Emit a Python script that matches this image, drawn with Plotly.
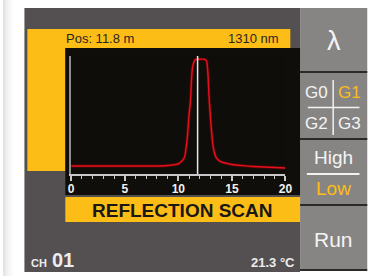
import plotly.graph_objects as go

# ---- data ----
distance_m = [0, 2, 4, 6, 8, 9, 10, 10.55, 10.82, 11.0, 11.14, 11.23, 11.32, 11.55, 11.73,
              12.0, 12.45, 12.64, 12.77, 12.86, 12.95, 13.09, 13.27, 13.55, 14.0, 15.0,
              16.0, 17.0, 18.0, 19.0, 20.0]
reflection = [0.068, 0.068, 0.068, 0.068, 0.068, 0.072, 0.085, 0.136, 0.288, 0.50, 0.627,
              0.797, 0.898, 0.966, 0.972, 0.973, 0.972, 0.958, 0.839, 0.669, 0.542, 0.373,
              0.220, 0.136, 0.102, 0.081, 0.071, 0.064, 0.059, 0.055, 0.051]
x_ticks = [0, 5, 10, 15, 20]
cursor_pos = 11.8
wavelength_nm = 1310
channel = "01"
temperature_c = 21.3

W, H = 384, 276
FONT = "Liberation Sans, Arial, sans-serif"
YEL = "#fcbd17"
DARK = "#545051"
BTN = "#878584"
BLACK = "#100e0b"


def px(x):
    return x / W


def py(y):
    return 1 - y / H


shapes = []


def rect(x0, y0, x1, y1, color):
    shapes.append(dict(type="rect", xref="paper", yref="paper", x0=px(x0), x1=px(x1),
                       y0=py(y1), y1=py(y0), fillcolor=color, line=dict(width=0),
                       layer="below"))


def hline(x0, x1, y, color, w):
    shapes.append(dict(type="line", xref="paper", yref="paper", x0=px(x0), x1=px(x1),
                       y0=py(y), y1=py(y), line=dict(color=color, width=w), layer="above"))


def vline(x, y0, y1, color, w):
    shapes.append(dict(type="line", xref="paper", yref="paper", x0=px(x), x1=px(x),
                       y0=py(y0), y1=py(y1), line=dict(color=color, width=w), layer="above"))


# left shadow
for i, c in enumerate(["#e4e4e4", "#ebebeb", "#f1f1f1", "#f6f6f6", "#fafafa"]):
    rect(i * 2, 0, i * 2 + 2, H, c)

# panels
rect(22, 8, 305, 272, DARK)
rect(305, 8, 374, 270, BTN)
for yy in [72, 139, 205, 270]:
    rect(305, yy - 1, 374, yy + 1, "#2b2929")
# yellow header row & left column
rect(25, 29, 295, 48, YEL)
rect(25, 48, 64, 171, YEL)
# black plot screen
rect(64, 48, 305, 195, BLACK)
# title band
rect(64, 197, 305, 222, YEL)

# G grid cross and High/Low separator
vline(339, 80, 135, "#f2f2f2", 1.5)
hline(313, 366, 107.5, "#f2f2f2", 1.5)
hline(312, 366, 174, "#f2f2f2", 2)

# cursor line (data coords)
shapes.append(dict(type="line", xref="x", yref="y", x0=cursor_pos, x1=cursor_pos,
                   y0=0, y1=1.01, line=dict(color="#e8e8e8", width=1.5), layer="above"))

annotations = []


def text(s, x, y, size, color, xanchor="center", bold=False):
    annotations.append(dict(text=s, xref="paper", yref="paper", x=px(x), y=py(y),
                            xanchor=xanchor, yanchor="middle", showarrow=False,
                            font=dict(family=FONT, size=size, color=color,
                                      weight="bold" if bold else "normal")))


text(f"Pos: {cursor_pos} m", 63, 38.5, 13, "#2a2622", xanchor="left")
text(f"{wavelength_nm} nm", 285, 38.5, 13, "#2a2622", xanchor="right")
text("REFLECTION SCAN", 184.5, 210, 19, "#1a1814", bold=True)
text("λ", 339.5, 41, 27, "#f4f4f4")
text("G0", 322, 92.5, 17, "#f4f4f4")
text("G1", 356, 92.5, 17, YEL)
text("G2", 322, 123, 17, "#f4f4f4")
text("G3", 356, 123, 17, "#f4f4f4")
text("High", 339.5, 157.5, 19, "#f4f4f4")
text("Low", 339.5, 188, 19, YEL)
text("Run", 339.5, 239, 21, "#f4f4f4")
text("CH", 26.5, 262.5, 11, "#ececec", xanchor="left", bold=True)
text(channel, 48, 259.5, 20, "#ececec", xanchor="left", bold=True)
text(f"{temperature_c} °C", 302, 262.5, 13, "#ececec", xanchor="right", bold=True)

fig = go.Figure()
fig.add_trace(go.Scatter(x=distance_m, y=reflection, mode="lines",
                         line=dict(color="#8a0008", width=3, shape="spline", smoothing=0.6),
                         opacity=0.55, hoverinfo="skip", showlegend=False))
fig.add_trace(go.Scatter(x=distance_m, y=reflection, mode="lines",
                         line=dict(color="#e4101c", width=1.4, shape="spline", smoothing=0.6),
                         showlegend=False))

fig.update_layout(
    width=W, height=H, margin=dict(l=0, r=0, t=0, b=0),
    paper_bgcolor="white", plot_bgcolor="rgba(0,0,0,0)",
    shapes=shapes, annotations=annotations, showlegend=False,
    font=dict(family=FONT),
    xaxis=dict(domain=[px(70), px(290)], range=[0, 20], showgrid=False, zeroline=False,
               showline=True, linecolor="#c8c8c8", linewidth=1.5,
               ticks="outside", ticklen=5, tickwidth=1.5, tickcolor="#c8c8c8",
               tickvals=x_ticks, ticktext=[str(v) for v in x_ticks],
               tickfont=dict(family=FONT, size=12, color="#f0f0f0", weight="bold"),
               ticklabelstandoff=-2,
               minor=dict(dtick=1, ticks="outside", ticklen=3, tickwidth=1,
                          tickcolor="#c8c8c8"),
               fixedrange=True),
    yaxis=dict(domain=[py(174), py(56)], range=[0, 1], showgrid=False, zeroline=False,
               showline=True, linecolor="#8e8e8e", linewidth=2, showticklabels=False,
               ticks="", fixedrange=True),
)

fig.write_html("out.html", config={"displayModeBar": False},
               post_script="document.body.style.margin='0';document.body.style.overflow='hidden';")
